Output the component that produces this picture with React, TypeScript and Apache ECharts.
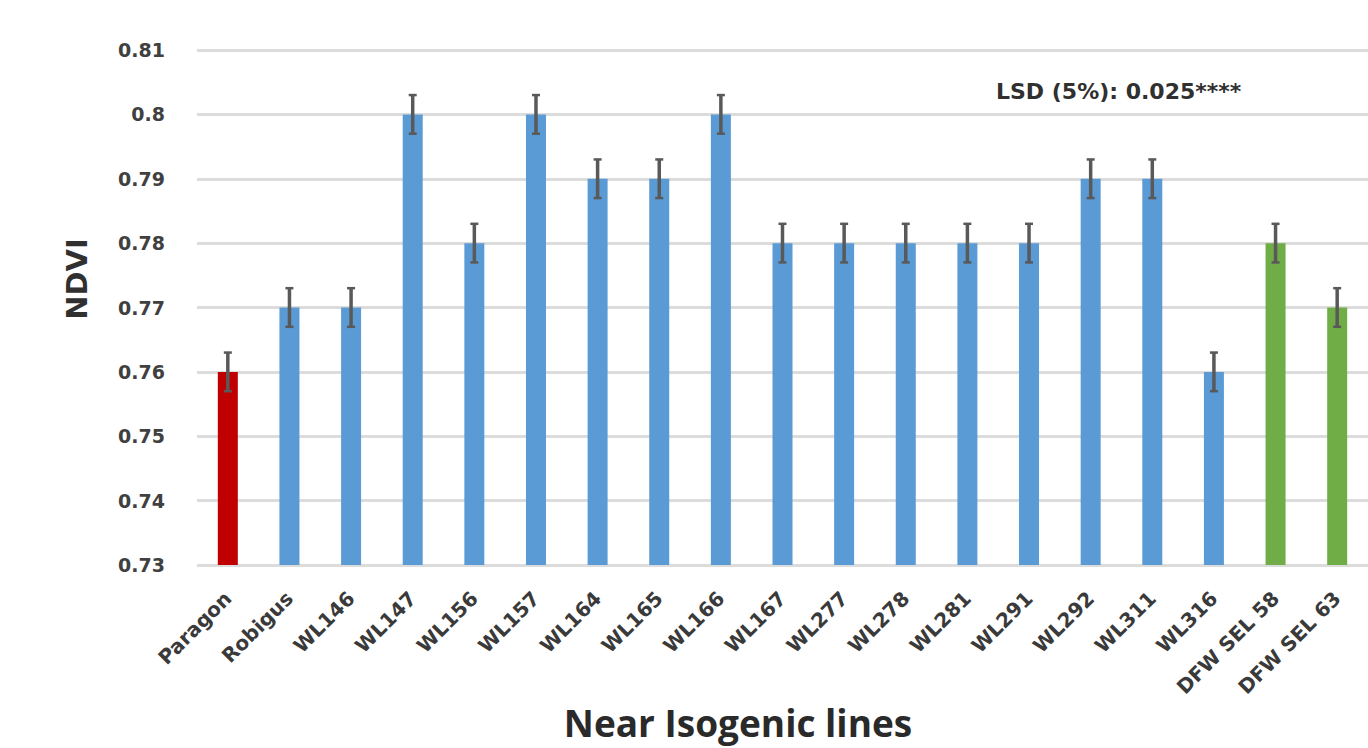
import React, { useEffect, useRef } from "react";
import * as echarts from "echarts";

const categories = [
  "Paragon", "Robigus", "WL146", "WL147", "WL156", "WL157", "WL164", "WL165", "WL166", "WL167",
  "WL277", "WL278", "WL281", "WL291", "WL292", "WL311", "WL316", "DFW SEL 58", "DFW SEL 63",
];
const ndvi = [0.76, 0.77, 0.77, 0.8, 0.78, 0.8, 0.79, 0.79, 0.8, 0.78, 0.78, 0.78, 0.78, 0.78, 0.79, 0.79, 0.76, 0.78, 0.77];
const errors = [0.003, 0.003, 0.003, 0.003, 0.003, 0.003, 0.003, 0.003, 0.003, 0.003, 0.003, 0.003, 0.003, 0.003, 0.003, 0.003, 0.003, 0.003, 0.003];
const groups = ["check", "nil", "nil", "nil", "nil", "nil", "nil", "nil", "nil", "nil", "nil", "nil", "nil", "nil", "nil", "nil", "nil", "sel", "sel"];
const groupColors: Record<string, string> = { check: "#C00000", nil: "#5B9BD5", sel: "#70AD47" };
const yTitle = "NDVI";
const xTitle = "Near Isogenic lines";
const note = "LSD (5%): 0.025****";

export default function App() {
  const ref = useRef<HTMLDivElement>(null);
  useEffect(() => {
    if (!ref.current) return;
    const chart = echarts.init(ref.current, undefined, { renderer: "svg" });
    const font = "'DejaVu Sans', 'Liberation Sans', sans-serif";
    const titleFont = "'Open Sans', 'DejaVu Sans', sans-serif";
    chart.setOption({
      animation: false,
      backgroundColor: "#ffffff",
      grid: { left: 197, top: 50, width: 1178, height: 515 },
      xAxis: {
        type: "category",
        data: categories,
        axisLine: { show: false },
        axisTick: { show: false },
        axisLabel: {
          rotate: 45,
          interval: 0,
          margin: 30,
          fontFamily: font,
          fontWeight: "bold",
          fontSize: 20,
          color: "#3a3a3a",
        },
      },
      yAxis: {
        type: "value",
        min: 0.73,
        max: 0.81,
        interval: 0.01,
        axisLine: { show: false },
        axisTick: { show: false },
        splitLine: { lineStyle: { color: "#dcdcdc", width: 3 } },
        axisLabel: {
          margin: 32,
          fontFamily: font,
          fontWeight: "bold",
          fontSize: 19,
          color: "#404040",
          formatter: (v: number) => String(parseFloat(v.toFixed(2))),
        },
      },
      graphic: [
        {
          type: "text",
          x: 77,
          y: 279,
          rotation: Math.PI / 2,
          style: {
            text: yTitle,
            fontFamily: font,
            fontWeight: "bold",
            fontSize: 29,
            fill: "#303030",
            textAlign: "center",
            textVerticalAlign: "middle",
          },
        },
        {
          type: "text",
          x: 738,
          y: 722,
          style: {
            text: xTitle,
            fontFamily: titleFont,
            fontWeight: "bold",
            fontSize: 37,
            fill: "#2a2a2a",
            textAlign: "center",
            textVerticalAlign: "middle",
          },
        },
        {
          type: "text",
          x: 996,
          y: 91,
          style: {
            text: note,
            fontFamily: font,
            fontWeight: "bold",
            fontSize: 22,
            fill: "#303030",
            textVerticalAlign: "middle",
          },
        },
      ],
      series: [
        {
          type: "bar",
          barWidth: 20,
          data: ndvi.map((v, i) => ({ value: v, itemStyle: { color: groupColors[groups[i]] } })),
        },
        {
          type: "custom",
          data: ndvi.map((v, i) => [i, v - errors[i], v + errors[i]]),
          z: 10,
          renderItem: (params: any, api: any) => {
            const x = api.value(0);
            const lo = api.coord([x, api.value(1)]);
            const hi = api.coord([x, api.value(2)]);
            const cap = 4;
            const style = { stroke: "#595959", lineWidth: 3.5 };
            return {
              type: "group",
              children: [
                { type: "line", shape: { x1: lo[0], y1: lo[1], x2: hi[0], y2: hi[1] }, style },
                { type: "line", shape: { x1: hi[0] - cap, y1: hi[1], x2: hi[0] + cap, y2: hi[1] }, style: { stroke: "#595959", lineWidth: 2.5 } },
                { type: "line", shape: { x1: lo[0] - cap, y1: lo[1], x2: lo[0] + cap, y2: lo[1] }, style: { stroke: "#595959", lineWidth: 2.5 } },
              ],
            };
          },
        },
      ],
    });
    return () => chart.dispose();
  }, []);
  return <div ref={ref} style={{ position: "fixed", left: 0, top: 0, width: 1368, height: 748 }} />;
}
